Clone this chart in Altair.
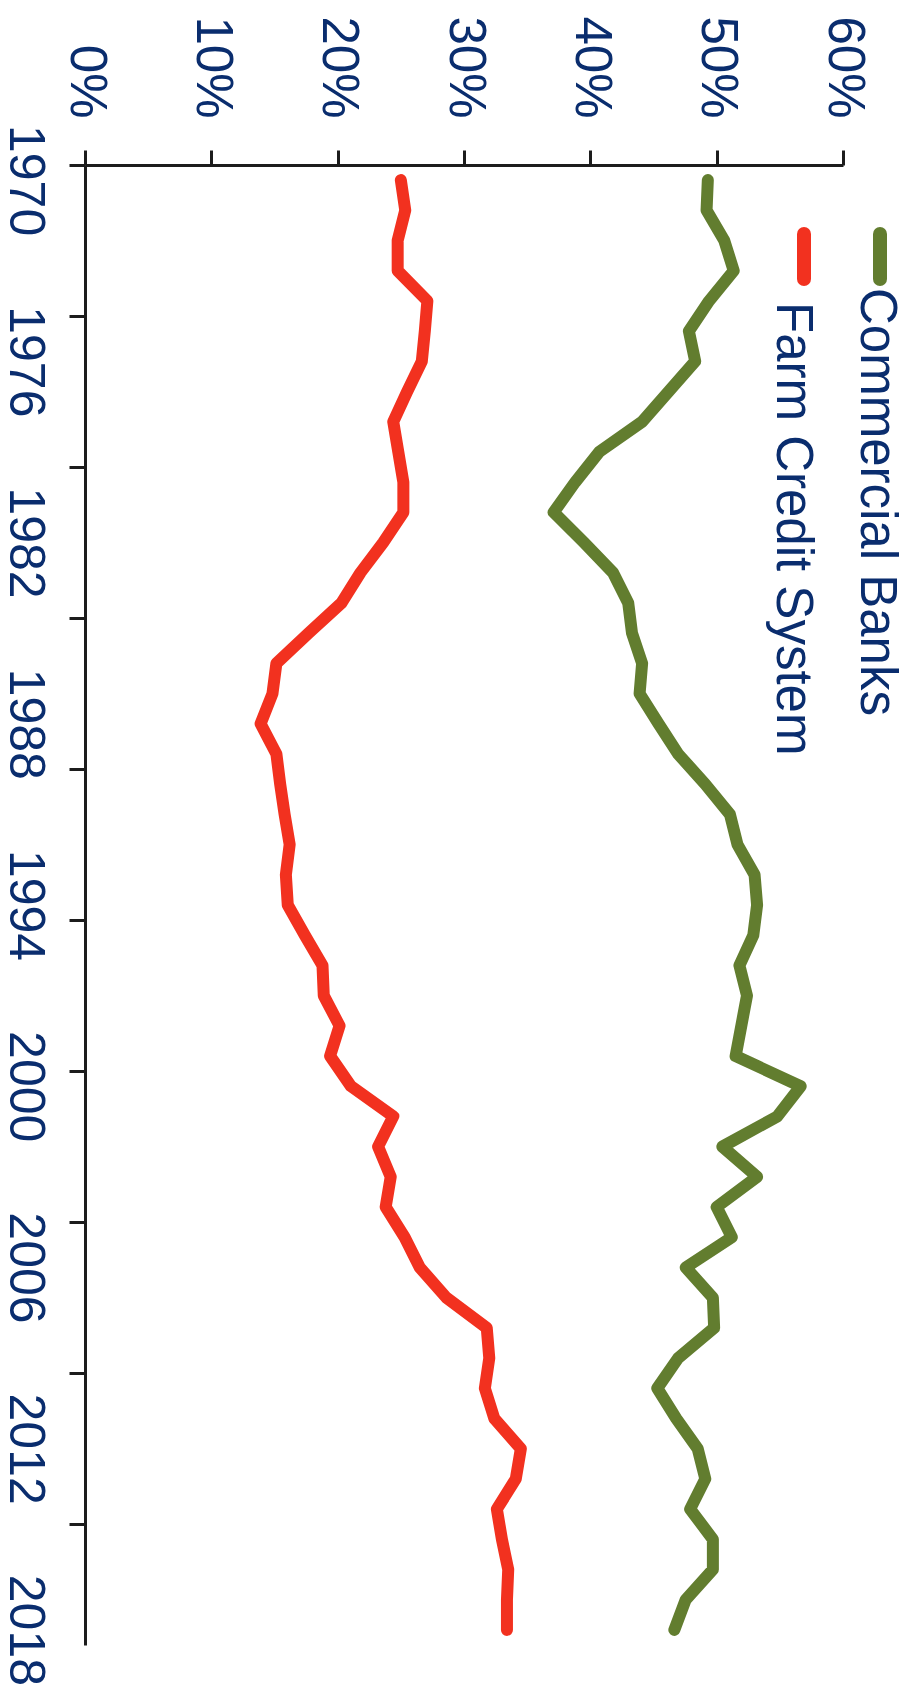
import altair as alt
import pandas as pd

# ---- data ----
years = list(range(1970, 2019))
commercial_banks = [49.3, 49.2, 50.6, 51.35, 49.4, 47.8, 48.3, 46.2, 44.1, 40.7,
                    38.8, 37.1, 39.5, 41.8, 43.0, 43.3, 44.1,
                    43.9, 45.4, 46.95, 49.1, 51.05, 51.65, 53.0, 53.2, 52.9,
                    51.8, 52.4, 51.95, 51.5, 56.65, 54.8, 50.45, 53.2,
                    50.0, 51.2, 47.55, 49.7, 49.8, 46.95, 45.3, 46.8, 48.5,
                    49.1, 47.9, 49.7, 49.7, 47.55, 46.65]
farm_credit = [25.0, 25.35, 24.75, 24.75, 27.1, 26.9, 26.66, 25.5, 24.4, 24.8,
               25.2, 25.2, 23.6, 21.8, 20.3, 17.7, 15.15,
               14.84, 13.9, 15.15, 15.45, 15.8, 16.2, 15.9, 16.05, 17.4,
               18.8, 18.9, 20.15, 19.4, 21.05, 24.4, 23.2, 24.2,
               23.8, 25.3, 26.5, 28.6, 31.8, 32.0, 31.65, 32.4, 34.5,
               34.1, 32.6, 33.0, 33.5, 33.4, 33.4]
series_names = ["Commercial Banks", "Farm Credit System"]
series_colors = ["#627d2f", "#f2311f"]
pct_ticks = [0, 10, 20, 30, 40, 50, 60]
year_labels = [1970, 1976, 1982, 1988, 1994, 2000, 2006, 2012, 2018]
year_ticks = [1969.5, 1974.5, 1979.5, 1984.5, 1989.5, 1994.5, 1999.5, 2004.5, 2009.5, 2014.5]

navy = "#0a2d6e"
axis_col = "#1c1c1c"
FONT = "Liberation Sans"

df = pd.DataFrame({
    "year": years + years,
    "share": commercial_banks + farm_credit,
    "series": [series_names[0]] * len(years) + [series_names[1]] * len(years),
})
legend_df = pd.DataFrame({"series": series_names})

color = alt.Color("series:N", scale=alt.Scale(domain=series_names, range=series_colors), legend=None)

x_enc = alt.X(
    "share:Q",
    scale=alt.Scale(domain=[0, 60], nice=False, zero=True),
    axis=alt.Axis(
        orient="top", values=pct_ticks, labelExpr="datum.value + '%'", title=None,
        grid=False, labelAngle=90, labelAlign="right", labelBaseline="middle",
        labelPadding=32, tickSize=15, tickWidth=3, tickColor=axis_col,
        domainColor=axis_col, domainWidth=3, labelFont=FONT, labelFontSize=51,
        labelColor=navy, labelFlush=False, labelOverlap=False, labelBound=False,
    ),
)
y_enc = alt.Y(
    "year:Q",
    scale=alt.Scale(domain=[1969.5, 2018.5], nice=False, zero=False, reverse=True),
    axis=alt.Axis(
        orient="left", values=sorted(year_ticks + year_labels), format="d",
        labelExpr="datum.value % 1 == 0 ? datum.label : ''", title=None,
        grid=False, labelAngle=90, labelAlign="center", labelBaseline="top",
        labelPadding=20, tickSize=16, tickWidth=3, tickColor=axis_col,
        tickOpacity={"condition": {"test": "datum.value % 1 == 0", "value": 0}, "value": 1},
        domainColor=axis_col, domainWidth=3, labelFont=FONT, labelFontSize=50,
        labelColor=navy, labelFlush=False, labelOverlap=False, labelBound=False,
    ),
)

lines = alt.Chart(df).mark_line(strokeWidth=12, strokeJoin="round", strokeCap="round").encode(
    x=x_enc, y=y_enc, color=color, order="year:Q"
)

def legend_item(name, mx, tx, ty):
    base = alt.Chart(legend_df).transform_filter(alt.datum.series == name)
    marker = base.mark_rule(strokeWidth=14, strokeCap="round").encode(
        x=alt.value(mx), y=alt.value(69), y2=alt.value(114), color=color
    )
    label = base.mark_text(angle=90, align="left", baseline="alphabetic",
                           font=FONT, fontSize=51, color=navy).encode(
        text="series:N", x=alt.value(tx), y=alt.value(ty)
    )
    return marker + label

leg1 = legend_item(series_names[0], 795, 775.5, 123)
leg2 = legend_item(series_names[1], 719, 691.5, 137)

chart = alt.layer(lines, leg1, leg2).properties(
    width=758, height=1480,
    padding={"left": 85, "top": 165, "right": 71, "bottom": 45},
    autosize=alt.AutoSizeParams(type="none"),
    background="white",
).configure_view(strokeOpacity=0)

chart.save("out.html", embed_options={"renderer": "svg", "actions": False})
